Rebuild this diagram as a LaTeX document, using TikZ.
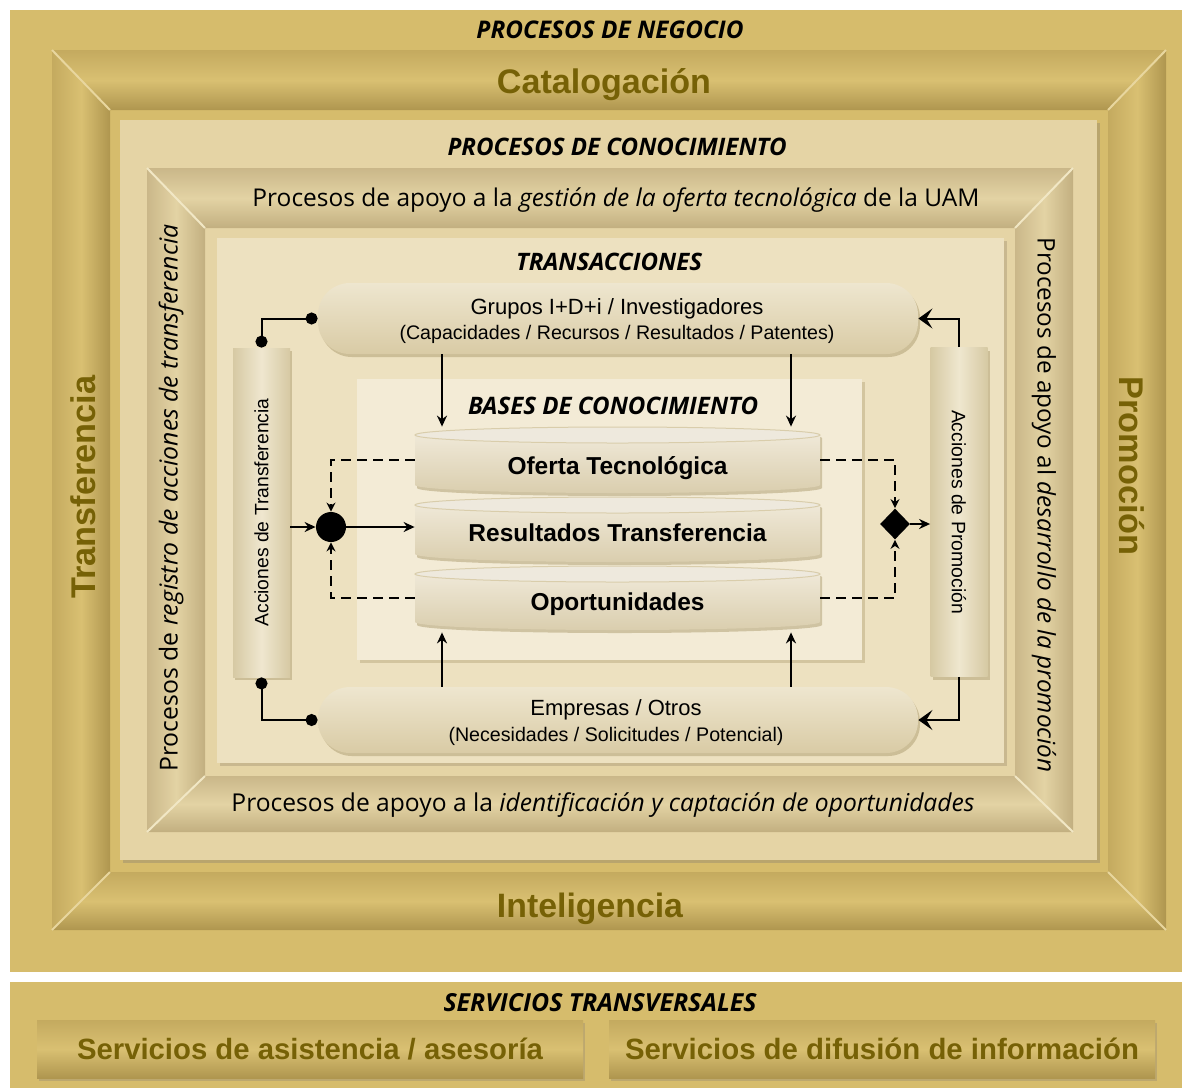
\documentclass[tikz,border=0pt]{standalone}
\usepackage{fontspec}
\setmainfont{Liberation Sans}
\newfontfamily\hum{Open Sans}
\usetikzlibrary{shapes.geometric,arrows.meta,shadows}
\definecolor{gold}{HTML}{D6BC6C}
\definecolor{bvA}{HTML}{C4AA5F}
\definecolor{bvM}{HTML}{D9C072}
\definecolor{bvB}{HTML}{AF964F}
\definecolor{olivetxt}{HTML}{766106}
\definecolor{know}{HTML}{E5D4A5}
\definecolor{knowsh}{HTML}{B9A56D}
\definecolor{ibA}{HTML}{CAB789}
\definecolor{ibM}{HTML}{E3D3A4}
\definecolor{ibB}{HTML}{C2AF80}
\definecolor{trans}{HTML}{EDE1C0}
\definecolor{transsh}{HTML}{C9B88F}
\definecolor{bases}{HTML}{F3EBD6}
\definecolor{basessh}{HTML}{D3C59F}
\definecolor{pillT}{HTML}{EEE6CF}
\definecolor{pillB}{HTML}{D9CBA5}
\definecolor{barE}{HTML}{D6C9A3}
\definecolor{barM}{HTML}{EFE7CF}
\definecolor{cylT}{HTML}{F2ECDD}
\definecolor{cylB}{HTML}{DACEAE}
\definecolor{cylTop}{HTML}{EEE9DD}
\definecolor{cylRim}{HTML}{D9CDAB}
\definecolor{shadowc}{HTML}{AD9C70}
\definecolor{hilite}{HTML}{E8D69E}
\newcommand\fitw[2]{\resizebox{#1}{!}{#2}}
\newcommand\lowered[2]{\raisebox{#1}[0pt][0pt]{#2}}
\newcommand\cylshape[2]{%
  \shade[top color=cylT, bottom color=cylB, drop shadow={shadow xshift=1pt,shadow yshift=-1.5pt,fill=shadowc,opacity=.5}]
    (415,#1+8) -- (415,#2-8) arc[start angle=180,end angle=360,x radius=101.25pt,y radius=4pt]
    -- (820,#1+8) arc[start angle=0,end angle=180,x radius=101.25pt,y radius=4pt] -- cycle;
  \fill[cylTop, draw=cylRim, line width=.5pt] (617.5,#1+8) ellipse [x radius=101.25pt, y radius=4pt];
}
\tikzset{
  big/.style={font=\bfseries, text=olivetxt, inner sep=0},
  hdr/.style={font=\hum\bfseries\itshape, inner sep=0},
  humtxt/.style={font=\hum, inner sep=0},
  pill/.style={rounded corners=16pt, top color=pillT, bottom color=pillB, minimum width=300pt,
    inner sep=0,
    drop shadow={shadow xshift=1pt,shadow yshift=-1.5pt,fill=shadowc,opacity=.5}},
  pilltxt/.style={inner sep=0, align=center, font=\fontsize{11}{12.75}\selectfont},
  barbox/.style={left color=barE, right color=barE, middle color=barM, minimum width=28.5pt,
    minimum height=164.5pt, inner sep=0,
    drop shadow={shadow xshift=1pt,shadow yshift=-1.5pt,fill=shadowc,opacity=.5}},
  cyltext/.style={minimum width=202.5pt, inner sep=0, font=\bfseries},
  btn/.style={top color=bvA, bottom color=bvB, middle color=bvM, minimum width=273pt,
    minimum height=29pt, inner sep=0, font=\bfseries, text=olivetxt,
    drop shadow={shadow xshift=1pt,shadow yshift=-1.5pt,fill=shadowc,opacity=.6}},
  conn/.style={line width=1pt, draw=black},
  arr/.style={conn, -{Stealth[length=5.5pt,width=5pt]}},
  bigarr/.style={conn, -{Stealth[length=7pt,width=10pt,inset=3pt]}},
  dots/.style={conn, {Circle[length=6pt]}-{Circle[length=6pt]}},
  dashconn/.style={conn, dash pattern=on 5pt off 3pt, -{Stealth[length=4.5pt,width=4.5pt]}},
}
\begin{document}
\begin{tikzpicture}[x=0.5pt,y=-0.5pt]
\useasboundingbox (0,0) rectangle (1182,1088);
\fill[white] (0,0) rectangle (1182,1088);
% business processes box
\fill[gold] (10,10) rectangle (1182,972);
% big bevel frame
\shade[top color=bvA, bottom color=bvB, middle color=bvM] (52,50) -- (1166,50) -- (1108,110) -- (110,110) -- cycle;
\shade[top color=bvA, bottom color=bvB, middle color=bvM] (110,872) -- (1108,872) -- (1166,930) -- (52,930) -- cycle;
\shade[left color=bvA, right color=bvB, middle color=bvM] (52,50) -- (110,110) -- (110,872) -- (52,930) -- cycle;
\shade[left color=bvA, right color=bvB, middle color=bvM] (1166,50) -- (1166,930) -- (1108,872) -- (1108,110) -- cycle;
\draw[hilite, line width=1pt] (52,50) -- (110,110) (1166,50) -- (1108,110) (52,930) -- (110,872) (1166,930) -- (1108,872);
% knowledge processes box
\fill[knowsh] (123,123) rectangle (1100,863);
\fill[know] (120,120) rectangle (1097,860);
% inner bevel frame
\shade[top color=ibA, bottom color=ibB, middle color=ibM] (147,168) -- (1073,168) -- (1015,228) -- (205,228) -- cycle;
\shade[top color=ibA, bottom color=ibB, middle color=ibM] (205,776) -- (1015,776) -- (1073,832) -- (147,832) -- cycle;
\shade[left color=ibA, right color=ibB, middle color=ibM] (147,168) -- (205,228) -- (205,776) -- (147,832) -- cycle;
\shade[left color=ibA, right color=ibB, middle color=ibM] (1073,168) -- (1073,832) -- (1015,776) -- (1015,228) -- cycle;
\draw[hilite!60!white, line width=1pt] (147,168) -- (205,228) (1073,168) -- (1015,228) (147,832) -- (205,776) (1073,832) -- (1015,776);
% transactions box
\fill[transsh] (220,241) rectangle (1007,766);
\fill[trans] (217,238) rectangle (1004,763);
% knowledge bases box
\fill[basessh] (360,382) rectangle (865,663);
\fill[bases] (357,379) rectangle (862,660);
% cylinders
\cylshape{427}{493}
\cylshape{497}{562}
\cylshape{566}{630}
% headers and labels
\node[hdr] (negocio) at (610,30) {\fitw{133.5pt}{PROCESOS DE NEGOCIO}};
\node[big] (catalog) at (604,85) {\fitw{107pt}{Catalogación}};
\node[big, rotate=90] (transfer) at (83,487) {\fitw{111.5pt}{Transferencia}};
\node[big, rotate=-90] (promocion) at (1132,466) {\fitw{89.5pt}{Promoción}};
\node[big] (intel) at (590,909) {\fitw{93pt}{Inteligencia}};
\node[hdr] (conoc) at (617,147) {\fitw{169.5pt}{PROCESOS DE CONOCIMIENTO}};
\node[humtxt] (gestion) at (616,200) {\fitw{363.5pt}{Procesos de apoyo a la \textit{gestión de la oferta tecnológica} de la UAM}};
\node[humtxt, rotate=90] (registro) at (171,498) {\fitw{273.5pt}{Procesos de \textit{registro de acciones de transferencia}}};
\node[humtxt, rotate=-90] (desarrollo) at (1044,505) {\fitw{267.5pt}{Procesos de apoyo al \textit{desarrollo de la promoción}}};
\node[humtxt] (ident) at (603,805) {\fitw{371.5pt}{Procesos de apoyo a la \textit{identificación y captación de oportunidades}}};
\node[hdr] (transac) at (609,262) {\fitw{93pt}{TRANSACCIONES}};
\node[hdr] (basesc) at (613,406) {\fitw{145pt}{BASES DE CONOCIMIENTO}};
% cylinder nodes
\node[cyltext, minimum height=33pt] (oferta) at (617.5,460) {\lowered{-7.35pt}{\fitw{110pt}{Oferta Tecnológica}}};
\node[cyltext, minimum height=32.5pt] (result) at (617.5,529.5) {\lowered{-6.1pt}{\fitw{149pt}{Resultados Transferencia}}};
\node[cyltext, minimum height=32pt] (oport) at (617.5,598) {\lowered{-6.4pt}{\fitw{87pt}{Oportunidades}}};
% pills
\node[pill, minimum height=35.5pt] (grupos) at (618,318.5) {};
\node[pilltxt] (grupostxt) at (617,321) {\fitw{146.5pt}{Grupos I+D+i / Investigadores}\\\fitw{217.5pt}{(Capacidades / Recursos / Resultados / Patentes)}};
\node[pill, minimum height=33pt] (empresas) at (618,720) {};
\node[pilltxt] (empresastxt) at (616,722.5) {\fitw{85.5pt}{Empresas / Otros}\\\fitw{167.5pt}{(Necesidades / Solicitudes / Potencial)}};
% bars
\node[barbox] (transf) at (261.5,512.5) {\rotatebox{90}{\fitw{114pt}{Acciones de Transferencia}}};
\node[barbox] (promo) at (959,512) {\rotatebox{-90}{\fitw{102pt}{Acciones de Promoción}}};
% junctions
\node[circle, fill=black, inner sep=0, minimum size=15pt] (junc) at (331,527) {};
\node[diamond, fill=black, inner sep=0, minimum width=15pt, minimum height=15.5pt] (dia) at (895,524) {};
% connectors
\draw[dots] (grupos.west) -| (transf.north);
\draw[dots] (empresas.west) -| (transf.south);
\draw[bigarr] (promo.north) |- (grupos.east);
\draw[bigarr] (promo.south) |- (empresas.east);
\draw[arr] ([xshift=-88pt]grupos.south) -- ([xshift=-88pt]grupos.south |- oferta.north);
\draw[arr] ([xshift=86.5pt]grupos.south) -- ([xshift=86.5pt]grupos.south |- oferta.north);
\draw[arr] ([xshift=-88pt]empresas.north) -- ([xshift=-88pt,yshift=-1pt]empresas.north |- oport.south);
\draw[arr] ([xshift=86.5pt]empresas.north) -- ([xshift=86.5pt,yshift=-1pt]empresas.north |- oport.south);
\draw[arr] (transf.east |- junc) -- (junc);
\draw[arr] (junc) -- (result.west |- junc);
\draw[dashconn] (oferta.west) -| (junc.north);
\draw[dashconn] (oport.west) -| (junc.south);
\draw[dashconn] (oferta.east) -| (dia.north);
\draw[dashconn] (oport.east) -| (dia.south);
\draw[arr] (dia) -- (promo.west |- dia);
% transversal services
\fill[gold] (10,982) rectangle (1182,1088);
\node[hdr] (servt) at (600,1003) {\fitw{156.5pt}{SERVICIOS TRANSVERSALES}};
\node[btn] (asist) at (310,1049) {\fitw{233pt}{Servicios de asistencia / asesoría}};
\node[btn] (difus) at (882,1049) {\fitw{257pt}{Servicios de difusión de información}};
\end{tikzpicture}
\end{document}
